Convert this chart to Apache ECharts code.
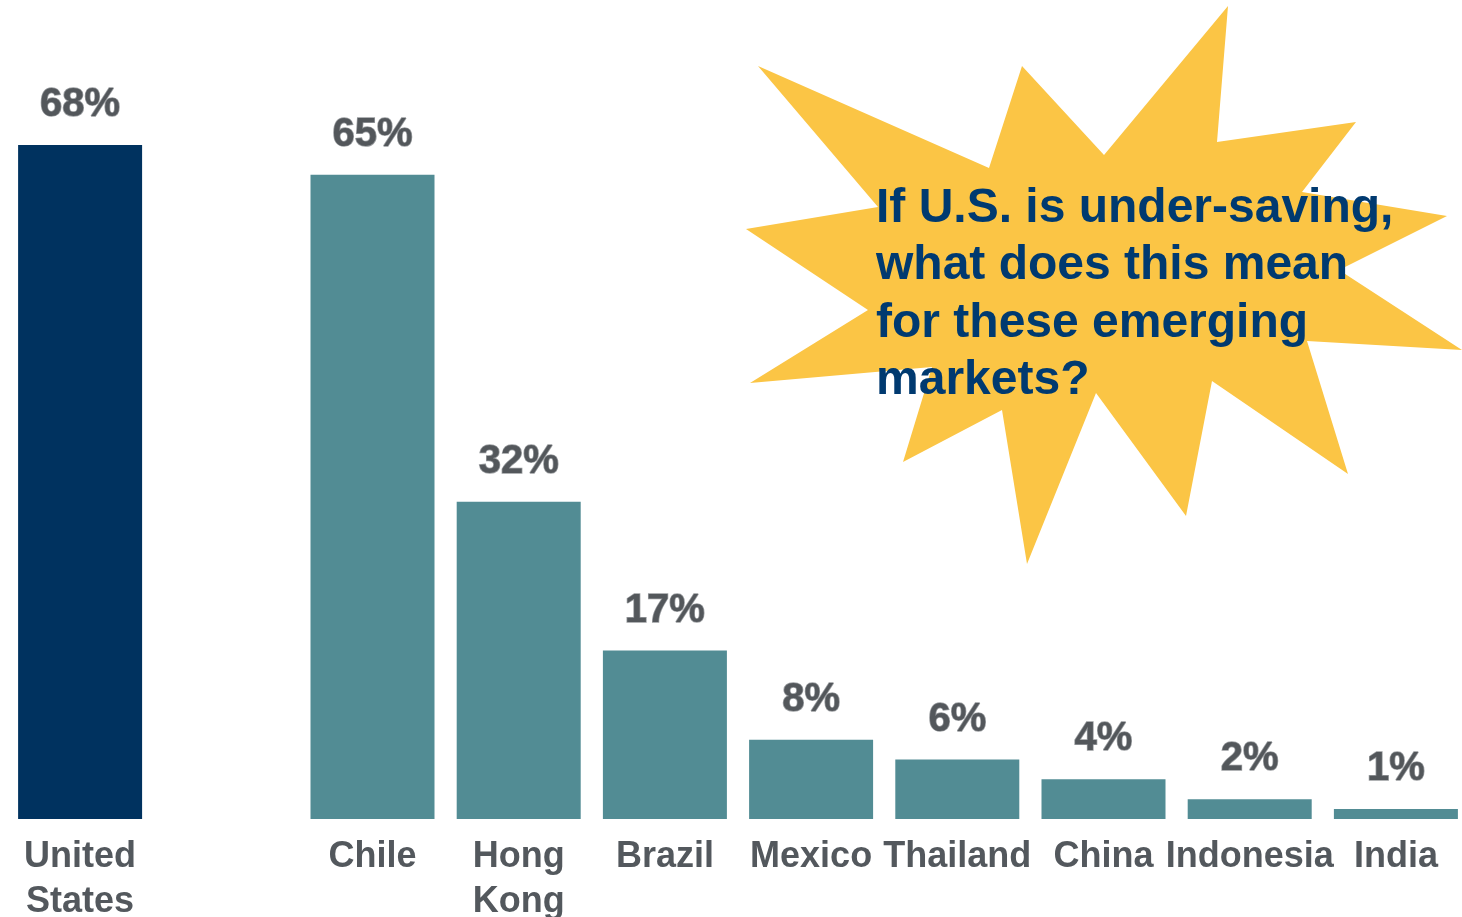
<!DOCTYPE html>
<html>
<head>
<meta charset="utf-8">
<title>Savings rates</title>
<script src="https://cdn.jsdelivr.net/npm/echarts@6/dist/echarts.min.js"></script>
<style>
  html, body { margin: 0; padding: 0; background: #ffffff; }
  #chart { width: 1462px; height: 917px; }
</style>
</head>
<body>
<div id="chart"></div>
<script>
// Categories (an empty slot separates the United States from the emerging markets)
const categories = ['United\nStates', '', 'Chile', 'Hong\nKong', 'Brazil', 'Mexico', 'Thailand', 'China', 'Indonesia', 'India'];
// Percentage values per category (null = empty slot)
const values = [68, null, 65, 32, 17, 8, 6, 4, 2, 1];
// Bar colours: home market vs. emerging markets
const usColor = '#00325F';
const emColor = '#528C94';

const callout = 'If U.S. is under-saving,\nwhat does this mean\nfor these emerging\nmarkets?';

// Outline of the starburst callout
const starPoints = [
  [758, 66], [989, 168], [1022, 66], [1104, 155], [1228, 6], [1217, 142],
  [1356, 122], [1302, 192], [1447, 216], [1339, 270], [1462, 350], [1307, 341],
  [1348, 474], [1212, 381], [1186, 516], [1096, 393], [1027, 564], [1002, 410],
  [903, 462], [932, 367], [750, 383], [868, 310], [746, 229], [878, 207]
];

const chart = echarts.init(document.getElementById('chart'), null, { renderer: 'canvas' });

chart.setOption({
  backgroundColor: '#ffffff',
  animation: false,
  grid: { left: 7, top: 26, width: 1462, height: 793, containLabel: false, outerBoundsMode: 'none' },
  xAxis: {
    type: 'category',
    data: categories,
    axisLine: { show: false },
    axisTick: { show: false },
    axisLabel: {
      interval: 0,
      margin: 16,
      color: '#53585D',
      fontFamily: 'Liberation Sans, Arial, sans-serif',
      fontWeight: 'bold',
      fontSize: 36,
      lineHeight: 45,
      verticalAlign: 'top'
    }
  },
  yAxis: {
    type: 'value',
    min: 0,
    max: 80,
    show: false,
    splitLine: { show: false }
  },
  series: [{
    type: 'bar',
    barWidth: 124,
    data: values.map((v, i) => ({
      value: v,
      itemStyle: { color: i === 0 ? usColor : emColor }
    })),
    label: {
      show: true,
      position: 'top',
      distance: 20,
      formatter: p => p.value + '%',
      color: '#53575B',
      fontFamily: 'Liberation Sans, Arial, sans-serif',
      fontWeight: 'bold',
      fontSize: 40,
      textBorderColor: '#9a9da0',
      textBorderWidth: 1.5
    }
  }],
  graphic: [
    {
      type: 'polygon',
      z: 0,
      shape: { points: starPoints },
      style: { fill: '#FBC545' }
    },
    {
      type: 'text',
      z: 10,
      left: 876,
      top: 180,
      style: {
        text: callout,
        fill: '#003A70',
        font: 'bold 48px "Liberation Sans", Arial, sans-serif',
        lineHeight: 57.5
      }
    }
  ]
});
</script>
</body>
</html>
